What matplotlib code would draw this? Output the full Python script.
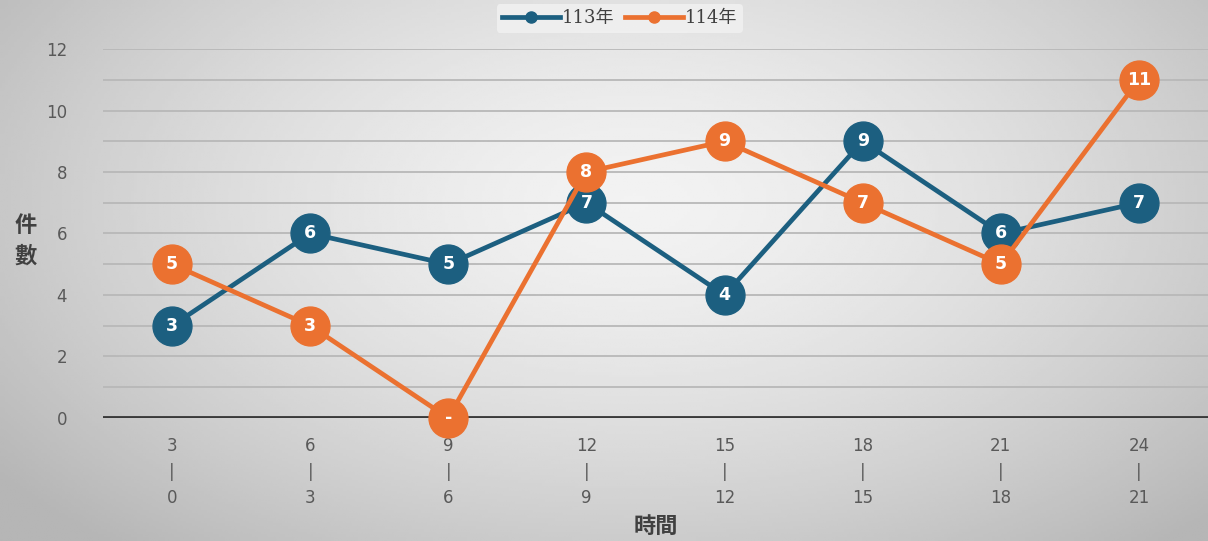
import numpy as np
import matplotlib.pyplot as plt
from matplotlib.lines import Line2D

plt.rcParams['font.family'] = ['Noto Sans CJK TC', 'DejaVu Sans']

# 資料
time_labels = ['3\n|\n0', '6\n|\n3', '9\n|\n6', '12\n|\n9', '15\n|\n12', '18\n|\n15', '21\n|\n18', '24\n|\n21']
y113 = [3, 6, 5, 7, 4, 9, 6, 7]
y114 = [5, 3, 0, 8, 9, 7, 5, 11]
series_names = ['113年', '114年']
c113 = '#1c5f80'
c114 = '#eb7130'

fig = plt.figure(figsize=(12.08, 5.41), dpi=100)

# 背景漸層
bg = fig.add_axes([0, 0, 1, 1], zorder=-10)
gx, gy = np.meshgrid(np.linspace(-1, 1, 400), np.linspace(-1, 1, 200))
r = np.sqrt(((gx - 0.05) / 1.1) ** 2 + ((gy - 0.25) / 1.4) ** 2)
shade = 0.95 - 0.18 * np.clip(r, 0, 1.2) ** 1.5
bg.imshow(shade, cmap='gray', vmin=0, vmax=1, aspect='auto',
          extent=[0, 1, 0, 1], origin='lower')
bg.axis('off')

ax = fig.add_axes([0.0853, 0.2274, 0.9147, 0.682])
ax.patch.set_alpha(0)
x = np.arange(len(time_labels))

ax.set_xlim(-0.5, len(time_labels) - 0.5)
ax.set_ylim(0, 12)
ax.set_yticks(range(0, 13, 2))
ax.set_yticks(range(1, 13, 2), minor=True)
ax.grid(axis='y', which='both', color='#b8b8b8', linewidth=1.3)
ax.axhline(0, color='#3a3a3a', linewidth=3.5, zorder=2)
for s in ax.spines.values():
    s.set_visible(False)
ax.tick_params(axis='both', which='both', length=0)
ax.tick_params(axis='y', labelsize=12, labelcolor='#595959', pad=26)
ax.set_yticklabels([str(v) for v in range(0, 13, 2)], family='DejaVu Sans')
ax.set_xticks(x)
ax.set_xticklabels(time_labels, fontsize=12, color='#595959', linespacing=1.55,
                   family='DejaVu Sans')
ax.tick_params(axis='x', pad=14)

for vals, col, z in [(y113, c113, 3), (y114, c114, 4)]:
    ax.plot(x, vals, color=col, linewidth=3.4, marker='o', markersize=28,
            zorder=z, clip_on=False)
    for xi, v in zip(x, vals):
        ax.text(xi, v, str(v) if v != 0 else '-', color='white', fontsize=12.5,
                fontweight='bold', ha='center', va='center', zorder=z + 0.5,
                family='DejaVu Sans')

fig.text(0.021, 0.555, '件\n數', fontsize=16, fontweight='bold', color='#404040',
         ha='center', va='center', linespacing=1.45)
fig.text(0.543, 0.027, '時間', fontsize=16, fontweight='bold', color='#404040',
         ha='center', va='center')

handles = [Line2D([], [], color=c113, linewidth=3.4, marker='o', markersize=8),
           Line2D([], [], color=c114, linewidth=3.4, marker='o', markersize=8)]
leg = fig.legend(handles, series_names, loc='center', bbox_to_anchor=(0.513, 0.966),
                 ncol=2, frameon=True, fontsize=13, handlelength=3.2,
                 handletextpad=0.1, columnspacing=0.6, borderpad=0.3)
leg.get_frame().set_facecolor('#f2f2f2')
leg.get_frame().set_edgecolor('none')
for t in leg.get_texts():
    t.set_family(['DejaVu Serif', 'Noto Sans CJK TC'])
    t.set_color('#404040')

fig.savefig('out.png', dpi=100)
